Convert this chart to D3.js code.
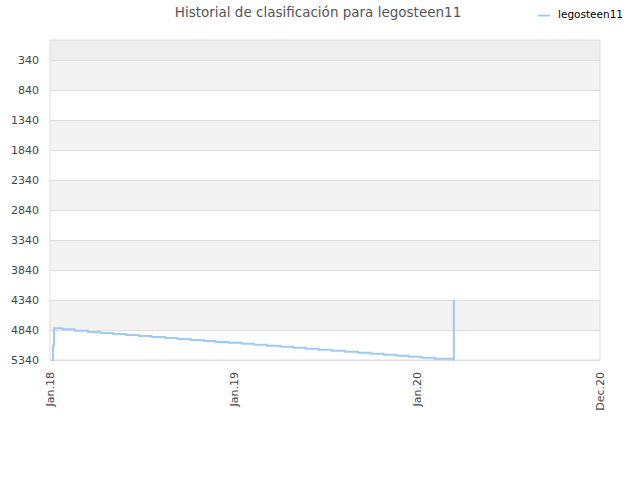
<!DOCTYPE html>
<html>
<head>
<meta charset="utf-8">
<script src="https://cdn.jsdelivr.net/npm/d3@7"></script>
<style>
    body { margin: 0; background: #fff; }
    text { font-family: "DejaVu Sans", sans-serif; }
</style>
</head>
<body>
<div id="root"></div>
<script>
// chart data
let playerName = 'legosteen11',
    chartTitle = 'Historial de clasificación para legosteen11';

let rankDates = ['2018-01-05', '2018-01-07', '2018-01-09', '2018-01-26', '2018-02-19', '2018-03-17',
    '2018-04-12', '2018-05-07', '2018-06-01', '2018-06-27', '2018-07-22', '2018-08-18', '2018-09-12',
    '2018-10-08', '2018-11-03', '2018-11-27', '2018-12-23', '2019-01-18', '2019-02-11', '2019-03-09',
    '2019-04-05', '2019-04-30', '2019-05-25', '2019-06-20', '2019-07-16', '2019-08-11', '2019-09-06',
    '2019-10-01', '2019-10-27', '2019-11-22', '2019-12-17', '2020-01-11', '2020-02-06', '2020-03-14',
    '2020-03-15'];

let rankValues = [5340, 5100, 4812, 4828, 4852, 4873,
    4890, 4907, 4923, 4940, 4957, 4973, 4990,
    5007, 5023, 5040, 5052, 5068, 5085, 5102,
    5118, 5135, 5152, 5168, 5185, 5202, 5218,
    5235, 5252, 5268, 5285, 5302, 5318, 5334,
    4340];

let yTicks = [340, 840, 1340, 1840, 2340, 2840, 3340, 3840, 4340, 4840, 5340];
let xTicks = ['2018-01-01', '2019-01-01', '2020-01-01', '2020-12-31'];
let xTickLabels = ['Jan.18', 'Jan.19', 'Jan.20', 'Dec.20'];
let yDomain = [7, 5340];

let width = 640,
    height = 480,
    plotLeft = 50, plotRight = 600, plotTop = 40, plotBottom = 360,
    lineColor = '#9ecaf3',
    parseDate = d3.timeParse('%Y-%m-%d');

let svg = d3.select('#root').append('svg')
    .attr('width', width)
    .attr('height', height);

let x = d3.scaleTime()
    .domain([parseDate(xTicks[0]), parseDate(xTicks[xTicks.length - 1])])
    .range([plotLeft, plotRight]);

let y = d3.scaleLinear()
    .domain(yDomain)
    .range([plotTop, plotBottom]);

// alternating bands between grid lines
let bandEdges = [yDomain[0]].concat(yTicks);
for (let i = 0; i < bandEdges.length - 1; i++) {
    svg.append('rect')
        .attr('x', plotLeft)
        .attr('y', y(bandEdges[i]))
        .attr('width', plotRight - plotLeft)
        .attr('height', y(bandEdges[i + 1]) - y(bandEdges[i]))
        .attr('fill', i == 0 ? '#eeeeee' : (i % 2 == 1 ? '#f3f3f3' : '#ffffff'));
}

// y axis with grid
let yAxis = svg.append('g')
    .attr('transform', 'translate(' + plotLeft + ',0)')
    .call(d3.axisLeft(y)
        .tickValues(yTicks)
        .tickFormat(d3.format('d'))
        .tickSize(-(plotRight - plotLeft))
        .tickPadding(11));
yAxis.select('.domain').remove();
yAxis.selectAll('line').attr('stroke', '#dddddd');
yAxis.selectAll('text')
    .attr('fill', '#444')
    .style('font-size', '11px');

// frame
svg.append('rect')
    .attr('x', plotLeft).attr('y', plotTop)
    .attr('width', plotRight - plotLeft).attr('height', plotBottom - plotTop)
    .attr('fill', 'none')
    .attr('stroke', '#dddddd');

// x axis
let xAxis = svg.append('g')
    .attr('transform', 'translate(0,' + plotBottom + ')')
    .call(d3.axisBottom(x)
        .tickValues(xTicks.map(parseDate))
        .tickSize(0)
        .tickFormat((d, i) => xTickLabels[i]));
xAxis.select('.domain').remove();
xAxis.selectAll('text')
    .attr('fill', '#444')
    .style('font-size', '11px')
    .attr('text-anchor', 'end')
    .attr('transform', 'rotate(-90)')
    .attr('x', -12)
    .attr('y', 0)
    .attr('dy', '0.35em');

// ranking line
let rankData = rankDates.map((d, i) => ({ date: parseDate(d), rank: rankValues[i] }));

svg.append('path')
    .datum(rankData)
    .attr('fill', 'none')
    .attr('stroke', lineColor)
    .attr('stroke-width', 2)
    .attr('d', d3.line()
        .x(d => x(d.date))
        .y(d => y(d.rank))
        .curve(d3.curveStepAfter));

// title
svg.append('text')
    .attr('x', 318)
    .attr('y', 17)
    .attr('text-anchor', 'middle')
    .attr('fill', '#555')
    .style('font-size', '13.5px')
    .text(chartTitle);

// legend
svg.append('line')
    .attr('x1', 538).attr('x2', 550)
    .attr('y1', 15.5).attr('y2', 15.5)
    .attr('stroke', lineColor)
    .attr('stroke-width', 2);

svg.append('text')
    .attr('x', 558)
    .attr('y', 18)
    .attr('fill', '#000')
    .style('font-size', '10.5px')
    .text(playerName);
</script>
</body>
</html>
